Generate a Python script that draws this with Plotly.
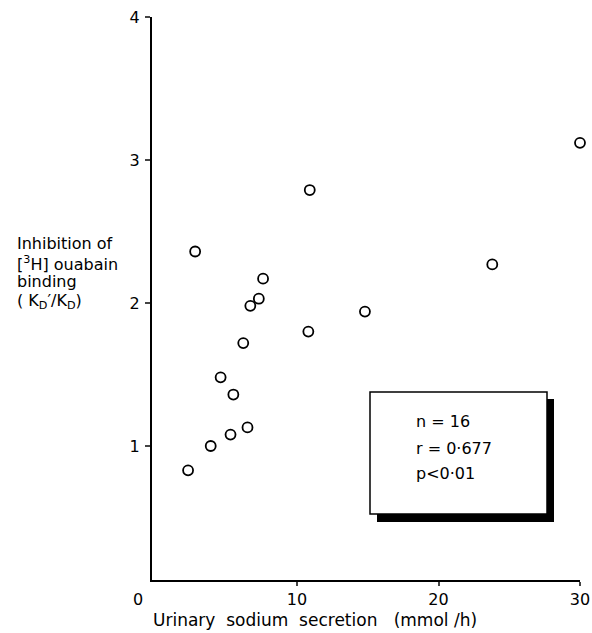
import plotly.graph_objects as go

sodium = [2.8, 7.6, 7.3, 6.7, 6.2, 4.6, 5.5, 2.3, 3.9, 5.3, 6.5, 30.0, 10.9, 23.8, 14.8, 10.8]
inhibition = [2.36, 2.17, 2.03, 1.98, 1.72, 1.48, 1.36, 0.83, 1.00, 1.08, 1.13, 3.12, 2.79, 2.27, 1.94, 1.80]
x_ticks = [10, 20, 30]
y_ticks = [1, 2, 3, 4]
stats_lines = ["n = 16", "r = 0·677", "p<0·01"]

FONT = "DejaVu Sans"
FS = 16
fig = go.Figure()
fig.add_trace(go.Scatter(
    x=sodium, y=inhibition, mode="markers", cliponaxis=False,
    marker=dict(symbol="circle-open", size=10, color="black", line=dict(width=1.8, color="black")),
    showlegend=False, hoverinfo="x+y",
))

fig.update_layout(
    width=592, height=633,
    margin=dict(l=152, r=12, t=17, b=53),
    paper_bgcolor="white", plot_bgcolor="white",
    font=dict(family=FONT, size=FS, color="black"),
    xaxis=dict(range=[-0.25, 30], tickvals=x_ticks, ticks="outside", ticklen=4, tickwidth=2,
               showline=True, linewidth=2, linecolor="black", showgrid=False, zeroline=False,
               automargin=False, ticklabelstandoff=0, tickfont=dict(size=FS, family=FONT)),
    yaxis=dict(range=[0.063, 4], tickvals=y_ticks, ticks="outside", ticklen=5, tickwidth=2,
               showline=True, linewidth=2, linecolor="black", showgrid=False, zeroline=False,
               automargin=False, ticklabelstandoff=2, tickfont=dict(size=FS, family=FONT)),
)

def px2x(px):
    return (px - 152) / 428
def py2y(py):
    return 1 - (py - 17) / 563

# "0" at the corner
fig.add_annotation(text="0", xref="paper", yref="paper", x=px2x(138), y=py2y(599), showarrow=False,
                   xanchor="center", yanchor="middle", font=dict(size=FS, family=FONT))
# x axis title
fig.add_annotation(text="Urinary  sodium  secretion   (mmol /h)", xref="paper", yref="paper",
                   x=px2x(151), y=py2y(620), showarrow=False, xanchor="left", yanchor="middle",
                   font=dict(size=17, family=FONT))
# y axis title (horizontal, left side)
ylab = ["Inhibition of", "[<sup>3</sup>H] ouabain", "binding", "( K<sub>D</sub>\u2032/K<sub>D</sub>)"]
ypos = [244, 263, 281, 301]
for t, yp in zip(ylab, ypos):
    fig.add_annotation(text=t, xref="paper", yref="paper", x=px2x(15), y=py2y(yp),
                       showarrow=False, xanchor="left", yanchor="middle",
                       font=dict(size=FS, family=FONT))

# stats box with shadow
fig.add_shape(type="rect", xref="paper", yref="paper", x0=px2x(377), x1=px2x(554), y0=py2y(522), y1=py2y(399),
              fillcolor="black", line=dict(width=0))
fig.add_shape(type="rect", xref="paper", yref="paper", x0=px2x(370), x1=px2x(547), y0=py2y(514), y1=py2y(392),
              fillcolor="white", line=dict(width=1.5, color="black"))
for t, yp in zip(stats_lines, [421, 448, 473]):
    fig.add_annotation(text=t, xref="paper", yref="paper", x=px2x(414), y=py2y(yp), showarrow=False,
                       xanchor="left", yanchor="middle", font=dict(size=FS, family=FONT))

fig.write_html("out.html")
